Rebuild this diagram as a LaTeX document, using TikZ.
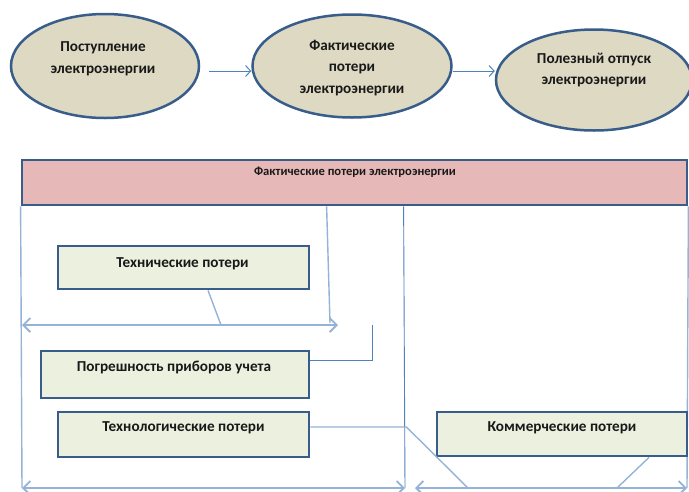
\documentclass[tikz,border=0pt]{standalone}
\usepackage{fontspec}
\setmainfont{Carlito}
\usetikzlibrary{arrows.meta,shapes.geometric,calc}
\definecolor{edge}{HTML}{385D8A}
\definecolor{tanf}{HTML}{DDD9C3}
\definecolor{pinkf}{HTML}{E6B9B8}
\definecolor{greenf}{HTML}{EBF1DE}
\definecolor{lblue}{HTML}{95B3D7}
\definecolor{mblue}{HTML}{4F81BD}
\begin{document}
\begin{tikzpicture}[x=1pt,y=-1pt,
  ell/.style={ellipse, draw=edge, line width=2.5pt, fill=tanf, inner sep=0},
  gbox/.style={rectangle, draw=edge, line width=2.8pt, fill=greenf, inner sep=0},
  pbox/.style={rectangle, draw=edge, line width=2.8pt, fill=pinkf, inner sep=0},
  txt/.style={font=\bfseries\fontsize{15.2}{21.5}\selectfont, align=center, inner sep=0, text=black!90},
  smalltxt/.style={font=\bfseries\fontsize{12.6}{14}\selectfont, inner sep=0, text=black!90},
  topar/.style={draw=mblue, line width=1pt, -{Straight Barb[length=5pt,width=11pt]}},
  conn/.style={draw=lblue, line width=1.4pt},
  dconn/.style={draw=lblue, line width=1.8pt, {Straight Barb[length=7pt,width=14pt]}-{Straight Barb[length=7pt,width=14pt]}},
  vline/.style={draw=mblue, line width=0.9pt}
]
\useasboundingbox (0,0) rectangle (689,491);
\fill[white] (0,0) rectangle (689,491);

% top ellipses
\node[ell, minimum width=188pt, minimum height=104pt] (e1) at (105,66) {};
\node[ell, minimum width=199pt, minimum height=103pt] (e2) at (352,66) {};
\node[ell, minimum width=196pt, minimum height=101pt] (e3) at (594,80) {};
\node[txt] (t1) at (103,59) {Поступление\\электроэнергии};
\node[txt] (t2) at (352,68) {Фактические\\потери\\электроэнергии};
\node[txt] (t3) at (594,70) {Полезный отпуск\\электроэнергии};
\draw[topar] ([xshift=9pt,yshift=-5pt]e1.east) -- ([yshift=-5pt]e2.west);
\draw[topar] ([yshift=-5pt]e2.east) -- ([yshift=9pt]e3.west);

% lower structure
\node[pbox, minimum width=665pt, minimum height=45pt] (pink) at (354.5,182.5) {};
\node[smalltxt] (pinkT) at (355,172) {Фактические потери электроэнергии};

\coordinate (bl) at (22,488);
\coordinate (bm) at (405,488);
\coordinate (bm2) at (415,488);
\coordinate (br) at (687,488);
\coordinate (hL) at (22,325);
\coordinate (hR) at (338,325);
\coordinate (hT) at (330,323);
\coordinate (hD) at (221,325);
\coordinate (pgTop) at (372,325);
\coordinate (tkD) at (468,488);
\coordinate (cmD) at (617,488);

\draw[conn] (pink.south west) -- (bl);
\draw[conn] (pink.south east) -- (br);
\draw[vline] ([xshift=383pt]pink.south west) -- (bm);
\draw[conn] ([xshift=306pt]pink.south west) -- (hT);
\draw[dconn] (hL) -- (hR);
\draw[dconn] (bl) -- (bm);
\draw[dconn] (bm2) -- (br);

\node[gbox, minimum width=251pt, minimum height=43pt] (tech) at (183.5,267.5) {};
\node[txt] (techT) at (182.5,264) {Технические потери};
\node[gbox, minimum width=268pt, minimum height=47pt] (pogr) at (175,374.5) {};
\node[txt] (pogrT) at (174,367) {Погрешность приборов учета};
\node[gbox, minimum width=251pt, minimum height=45pt] (techno) at (183.5,434.5) {};
\node[txt] (technoT) at (183.5,428) {Технологические потери};
\node[gbox, minimum width=250pt, minimum height=44pt] (comm) at (562,434) {};
\node[txt] (commT) at (562,428) {Коммерческие потери};

\draw[conn] ([xshift=24.5pt]tech.south) -- (hD);
\draw[vline] ([yshift=14.5pt]pogr.east) -| (pgTop);
\draw[conn] ([yshift=7.5pt]techno.east) -- ++(96,0) -- (tkD);
\draw[conn] ([xshift=87pt]comm.south) -- (cmD);
\end{tikzpicture}
\end{document}
